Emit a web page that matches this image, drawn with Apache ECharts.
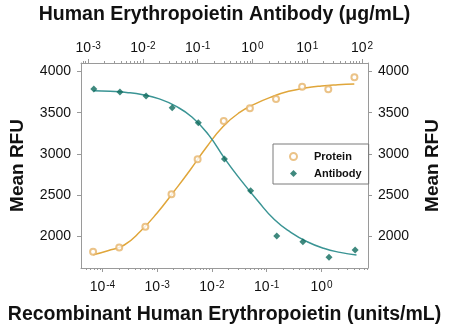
<!DOCTYPE html>
<html><head><meta charset="utf-8">
<script src="https://cdn.jsdelivr.net/npm/echarts@6/dist/echarts.min.js"></script>
<style>html,body{margin:0;padding:0;background:#fff}#c{width:450px;height:331px}</style>
</head><body><div id="c"></div>
<script>
// Recombinant Human Erythropoietin (units/mL) — bottom axis
const proteinConc = [6.774e-5, 2.032e-4, 6.097e-4, 1.829e-3, 5.487e-3, 0.01646, 0.04938, 0.1481, 0.4444, 1.333, 4];
const proteinRFU  = [1809, 1858, 2113, 2507, 2933, 3399, 3553, 3667, 3816, 3785, 3931];
// Human Erythropoietin Antibody (µg/mL) — top axis
const antibodyConc = [1.270e-3, 3.810e-3, 0.01143, 0.03429, 0.1029, 0.3086, 0.9259, 2.778, 8.333, 25, 75];
const antibodyRFU  = [3788, 3752, 3703, 3561, 3378, 2937, 2551, 2000, 1931, 1741, 1830];
// fitted curves
const proteinFitConc = [6.76e-5, 1.259e-4, 2.512e-4, 5.012e-4, 1.0e-3, 1.995e-3, 3.981e-3, 7.943e-3, 0.01585, 0.03162, 0.0631, 0.1259, 0.2512, 0.5012, 1.0, 1.995, 3.981];
const proteinFitRFU  = [1770, 1820, 1890, 2060, 2280, 2535, 2800, 3080, 3330, 3500, 3610, 3695, 3760, 3800, 3825, 3840, 3850];
const antibodyFitConc = [1.259e-3, 2.512e-3, 5.012e-3, 0.01, 0.01995, 0.03981, 0.07943, 0.1585, 0.3162, 0.631, 1.259, 2.512, 5.012, 10, 19.95, 39.81, 79.43];
const antibodyFitRFU  = [3768, 3760, 3746, 3718, 3668, 3580, 3445, 3230, 2935, 2670, 2425, 2200, 2045, 1930, 1850, 1800, 1768];
// tick labels
const bottomExps = [-4, -3, -2, -1, 0];
const topExps = [-3, -2, -1, 0, 1, 2];
const yTicks = [2000, 2500, 3000, 3500, 4000];
const minorMults = [2, 3, 4, 5, 6, 7, 8, 9];

const BOT = [-4.39, 0.85], TOP = [-3.13, 2.11];
function minorTicks(range) {
  const out = [];
  for (let n = Math.floor(range[0]); n <= Math.ceil(range[1]); n++) {
    minorMults.forEach(m => { const v = n + Math.log10(m); if (v > range[0] && v < range[1]) out.push(v); });
  }
  return out;
}
const FONT = 'Liberation Sans, Arial, sans-serif';
const AX = '#9a9a9a';
const ORANGE = '#E0A63A', ORANGE_PT = '#E6B46A', TEAL = '#3A9494', TEAL_PT = '#0F6B5E';

function majorX(pos, range, exps, name, margin, gap) {
  return {
    type: 'value', position: pos, min: range[0], max: range[1],
    axisLine: { show: true, onZero: false, lineStyle: { color: AX, width: 1 } },
    axisTick: { show: true, customValues: exps, length: 4, lineStyle: { color: AX } },
    splitLine: { show: false },
    axisLabel: {
      customValues: exps, margin: margin, color: '#111',
      formatter: v => '{b|10}{s|' + Math.round(v) + '}',
      rich: {
        b: { fontSize: 14, fontFamily: FONT, color: '#111' },
        s: { fontSize: 10, fontFamily: FONT, color: '#111', verticalAlign: 'top', padding: [0, 0, 0, 1] }
      }
    },
    name: name, nameLocation: 'middle', nameGap: gap,
    nameTextStyle: { fontSize: 19.5, fontWeight: 'bold', fontFamily: FONT, color: '#111' }
  };
}
function minorX(pos, range) {
  return {
    type: 'value', position: pos, min: range[0], max: range[1],
    axisLine: { show: false, onZero: false }, splitLine: { show: false }, axisLabel: { show: false },
    axisTick: { show: true, customValues: minorTicks(range), length: 2, lineStyle: { color: AX } }
  };
}
function yAx(pos, gap) {
  return {
    type: 'value', position: pos, min: 1610, max: 4105,
    axisLine: { show: true, onZero: false, lineStyle: { color: AX } },
    axisTick: { show: true, customValues: yTicks, length: 4, lineStyle: { color: AX } },
    splitLine: { show: false },
    axisLabel: { customValues: yTicks, margin: 10, fontSize: 14, fontFamily: FONT, color: '#111',
      formatter: v => String(Math.round(v)) },
    name: 'Mean RFU', nameLocation: 'middle', nameGap: gap,
    nameTextStyle: { fontSize: 19, fontWeight: 'bold', fontFamily: FONT, color: '#111' }
  };
}
const pairs = (xs, ys) => xs.map((x, i) => [Math.log10(x), ys[i]]);

const chart = echarts.init(document.getElementById('c'), null, { renderer: 'canvas' });
chart.setOption({
  animation: false,
  backgroundColor: '#fff',
  grid: { left: 78, right: 77, top: 63, bottom: 63 },
  xAxis: [
    majorX('bottom', BOT, bottomExps, 'Recombinant Human Erythropoietin (units/mL)', 12, 37),
    minorX('bottom', BOT),
    majorX('top', TOP, topExps, 'Human Erythropoietin Antibody (μg/mL)', 8, 38),
    minorX('top', TOP)
  ],
  yAxis: [yAx('left', 54), yAx('right', 55)],
  legend: {
    data: [{ name: 'Protein', icon: 'emptyCircle' }, { name: 'Antibody', icon: 'diamond' }],
    orient: 'vertical', left: 273, top: 144,
    padding: [7, 7, 5, 16], itemWidth: 7, itemHeight: 7, itemGap: 6,
    borderColor: '#7a7a7a', borderWidth: 1,
    textStyle: { fontSize: 11, fontWeight: 'bold', fontFamily: FONT, color: '#111', padding: [0, 0, 0, 12] }
  },
  series: [
    { type: 'line', name: 'Protein fit', xAxisIndex: 0, yAxisIndex: 0, smooth: true, showSymbol: false,
      data: pairs(proteinFitConc, proteinFitRFU), lineStyle: { color: ORANGE, width: 1.5 }, z: 2 },
    { type: 'line', name: 'Antibody fit', xAxisIndex: 2, yAxisIndex: 0, smooth: true, showSymbol: false,
      data: pairs(antibodyFitConc, antibodyFitRFU), lineStyle: { color: TEAL, width: 1.5 }, z: 2 },
    { type: 'scatter', name: 'Protein', xAxisIndex: 0, yAxisIndex: 0, symbol: 'emptyCircle', symbolSize: 6,
      data: pairs(proteinConc, proteinRFU), itemStyle: { color: ORANGE_PT, borderColor: ORANGE_PT, borderWidth: 1 }, z: 3 },
    { type: 'scatter', name: 'Antibody', xAxisIndex: 2, yAxisIndex: 0, symbol: 'diamond', symbolSize: 7,
      data: pairs(antibodyConc, antibodyRFU), itemStyle: { color: TEAL_PT }, z: 3 }
  ]
});
</script></body></html>
